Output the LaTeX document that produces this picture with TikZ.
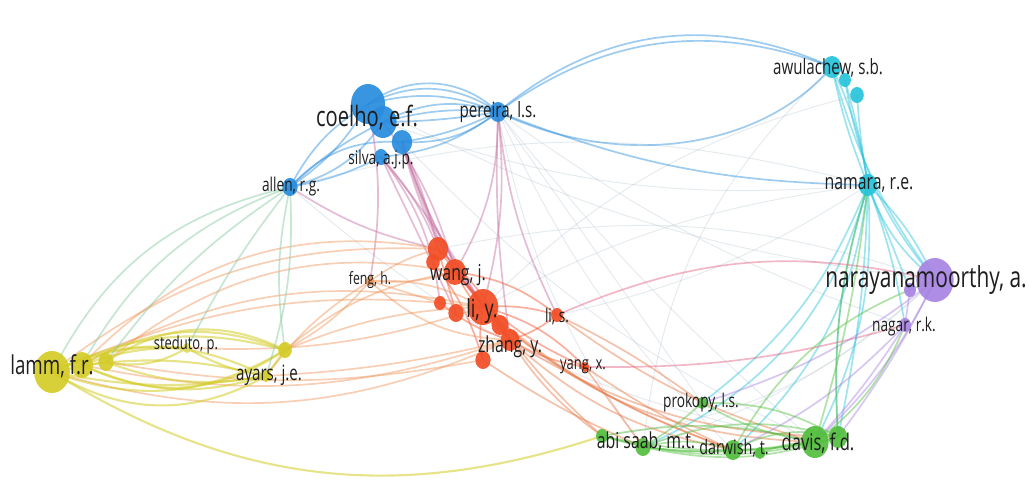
\documentclass[tikz,border=0pt]{standalone}
\usepackage{graphicx}
\usepackage{fontspec}
\setmainfont{Open Sans}
\usetikzlibrary{shapes.geometric,backgrounds}

\definecolor{cBlue}{RGB}{40,140,222}
\definecolor{cCyan}{RGB}{40,196,220}
\definecolor{cPurp}{RGB}{168,132,226}
\definecolor{cRed}{RGB}{242,78,38}
\definecolor{cOrng}{RGB}{240,150,90}
\definecolor{cRedG}{RGB}{232,120,70}
\definecolor{cYel}{RGB}{212,204,40}
\definecolor{cGrn}{RGB}{82,190,62}
\definecolor{cTeal}{RGB}{130,200,160}
\definecolor{cMix}{RGB}{196,110,160}
\definecolor{cPink}{RGB}{228,96,130}
\definecolor{cGray}{RGB}{165,185,200}
\definecolor{labgray}{RGB}{30,30,30}

% bubble: name, x, y, radius, colour
\newcommand\bub[5]{\node[bub, fill=#5, minimum width={1.7*#4pt}, minimum height={2*#4pt}] (#1) at (#2,#3) {};}
% label: name, x, y, size, text
\newcommand\lbl[5]{\node[lab] (#1) at (#2,#3) {\fontsize{#4}{#4}\selectfont\scalebox{0.72}[1]{#5}};}

\begin{document}
\begin{tikzpicture}[x=1pt,y=-1pt,
  bub/.style={ellipse, inner sep=0pt, draw=none, fill opacity=.92},
  lab/.style={text=labgray, inner sep=0pt},
  ed/.style={line width=1.7pt, draw opacity=.45},
  edy/.style={line width=2.1pt, draw opacity=.55},
  edf/.style={line width=1pt, draw opacity=.28}]
\useasboundingbox (0,0) rectangle (1029,481);

% ---- bubbles ----
% blue cluster
\bub{c1}{368}{104}{20}{cBlue}
\bub{c2}{383}{122}{16}{cBlue}
\bub{c3}{402}{142}{12}{cBlue}
\bub{c4}{381}{157}{8}{cBlue}
\bub{per}{498}{112}{10}{cBlue}
\bub{alln}{290}{187}{9}{cBlue}
% cyan cluster
\bub{aw1}{832}{67}{11}{cCyan}
\bub{aw2}{845}{80}{7}{cCyan}
\bub{aw3}{857}{95}{8}{cCyan}
\bub{nam}{868}{185}{11}{cCyan}
% purple cluster
\bub{nar}{935}{280}{22}{cPurp}
\bub{nar2}{910}{290}{7}{cPurp}
\bub{nag}{905}{325}{7}{cPurp}
% red cluster
\bub{r1}{438}{249}{12}{cRed}
\bub{r2}{433}{262}{8}{cRed}
\bub{r3}{455}{272}{13}{cRed}
\bub{r4}{440}{303}{7}{cRed}
\bub{r5}{456}{313}{9}{cRed}
\bub{ly}{483}{307}{18}{cRed}
\bub{r6}{500}{325}{10}{cRed}
\bub{zh}{510}{340}{11}{cRed}
\bub{r7}{483}{360}{9}{cRed}
\bub{ls}{557}{315}{7}{cRed}
\bub{yx}{585}{367}{5}{cRed}
\bub{feng}{370}{281}{5}{cOrng}
% yellow cluster
\bub{l1}{52}{372}{21}{cYel}
\bub{l2}{82}{365}{13}{cYel}
\bub{l3}{106}{362}{9}{cYel}
\bub{sted}{187}{348}{5}{cYel!70}
\bub{ya}{285}{350}{8}{cYel}
\bub{ay}{266}{376}{6}{cYel}
% green cluster
\bub{pro}{702}{403}{6}{cGrn}
\bub{ab1}{602}{436}{7}{cGrn}
\bub{ab2}{643}{447}{9}{cGrn}
\bub{dw1}{733}{450}{10}{cGrn}
\bub{dw2}{760}{453}{6}{cGrn}
\bub{dv1}{815}{442}{16}{cGrn}
\bub{dv2}{838}{437}{11}{cGrn}

% ---- links ----
\begin{scope}[on background layer]
\fill[white] (0,0) rectangle (1029,481);
% faint long-range links
\foreach \a/\b/\k in {per/dv1/-5, c1/nar/-10, alln/nam/15, per/pro/0, ly/nam/10,
  r1/nar/15, c3/dv1/-10, aw1/ab2/-20, nam/ls/10, per/dw1/-10, alln/dv1/-15, per/nag/-8,
  c2/nam/-12, per/ab2/-12, ly/aw3/15, nar/ab2/12, nar/ab1/18}
  \draw[edf,cGray] (\a.center) to[bend left=\k] (\b.center);
% blue
\foreach \a/\b/\k in {c1/per/30, c1/per/18, c2/per/10, c3/per/-8, c4/per/-15, c3/per/-20,
  c2/per/22, c1/per/40, c2/per/-4, c1/alln/-15, c2/alln/-8, c4/alln/8, c3/alln/-25,
  c1/alln/12, c2/alln/20, per/aw1/32, per/aw1/28, per/nam/-10}
  \draw[ed,cBlue] (\a.center) to[bend left=\k] (\b.center);
\draw[ed,cBlue] (per.center) .. controls (620,170) and (760,150) .. (aw1.center);
% cyan
\foreach \a/\b/\k in {aw1/nam/-5, aw1/nam/8, aw2/nam/3, aw3/nam/-3, aw1/nar/-10, aw2/nar/-15,
  nam/nar/-15, nam/nar/10, nam/nag/5, nam/dv1/15, nam/dv2/5, nam/dv2/-10, nam/dw1/20,
  nam/ab2/25, nam/pro/15, nam/nar2/0}
  \draw[ed,cCyan] (\a.center) to[bend left=\k] (\b.center);
% blue to red
\foreach \a/\b/\k in {c3/r1/5, c3/r3/-5, c4/r1/10, c3/ly/-8, c4/ly/5, c3/zh/-10, c2/r3/10,
  c4/r4/15, per/ly/10, per/zh/-5, per/ls/-10, per/r3/15, alln/r1/-10, c1/feng/10,
  c3/r6/-14, c4/r5/0}
  \draw[ed,cMix] (\a.center) to[bend left=\k] (\b.center);
% red
\foreach \a/\b/\k in {r1/ly/0, r3/ly/5, r3/zh/-10, r1/zh/10, ly/zh/0, r4/zh/-10, ly/ls/10,
  zh/ls/-10, r3/ls/15, r7/ly/10, zh/yx/-10, ly/yx/15, r1/r5/0, r2/r7/10, r3/yx/-12}
  \draw[ed,cRed] (\a.center) to[bend left=\k] (\b.center);
% red to yellow
\foreach \a/\b/\k in {r1/feng/-10, r3/feng/10, ly/feng/-15, zh/feng/20, r4/feng/0,
  l1/r1/20, l2/ly/20, l3/r3/25, l1/zh/-20, l2/zh/-15, l3/r7/-10, ya/ly/10, ay/zh/-5,
  ya/r3/15, sted/ly/-10, feng/ya/10, feng/ay/-10, l1/ly/15, l2/r1/28}
  \draw[ed,cOrng] (\a.center) to[bend left=\k] (\b.center);
% red to green
\foreach \a/\b/\k in {zh/ab1/-10, zh/dw1/-15, ly/dv1/-20, r7/ab2/-5, yx/dw1/-5, ls/dv1/-10,
  zh/dv2/-15, ls/pro/5, r6/ab1/-5, yx/ab2/0, ly/dw1/-10, r6/dw1/-8}
  \draw[ed,cRedG] (\a.center) to[bend left=\k] (\b.center);
% purple
\draw[ed,cPink] (nar.center) to[bend left=-18] (ls.center);
\draw[ed,cPink] (nag.center) to[bend left=8] (yx.center);
\foreach \a/\b/\k in {nar/dv1/10, nar/dv2/5, nag/dv1/5, nag/dw1/10, nar2/nag/0, nar/pro/10}
  \draw[ed,cPurp] (\a.center) to[bend left=\k] (\b.center);
% yellow
\foreach \a/\b/\k in {l1/ya/20, l2/ya/25, l1/ay/-10, l2/ay/-20, l3/ay/-15, l1/sted/15,
  l2/sted/10, l3/ya/30, l1/l3/0, l1/ay/25, l2/ay/10, l3/sted/-20, l1/ya/-25, ya/ay/0,
  l1/ab1/-25, sted/ay/-10, l2/ya/-30, l1/ay/-30}
  \draw[edy,cYel] (\a.center) to[bend left=\k] (\b.center);
% allen to yellow
\foreach \a/\b/\k in {alln/l1/-25, alln/l2/-20, alln/l3/-10, alln/sted/-5, alln/ya/-10, alln/ay/10}
  \draw[ed,cTeal] (\a.center) to[bend left=\k] (\b.center);
% green
\foreach \a/\b/\k in {ab1/dv1/-10, ab2/dv1/-8, dw1/dv1/-5, dw1/dv2/20, pro/dv1/-10, pro/dv2/15,
  ab1/dw1/-10, ab2/dv2/-15, pro/ab2/5, dw2/dv1/10, ab1/dv2/-15, ab2/dw1/15, dv2/nam/10,
  dv1/nam/-5, dv1/nag/-15, dw1/nar/20, ab1/dv1/12, ab2/dv2/18}
  \draw[ed,cGrn] (\a.center) to[bend left=\k] (\b.center);
\end{scope}

% ---- labels ----
\lbl{tCoelho}{367}{118}{28}{coelho, e.f.}
\lbl{tSilva}{381}{160}{19}{silva, a.j.p.}
\lbl{tPereira}{498}{112}{21}{pereira, l.s.}
\lbl{tAllen}{291}{187}{19}{allen, r.g.}
\lbl{tAwul}{828}{68}{21}{awulachew, s.b.}
\lbl{tNamara}{869}{185}{22}{namara, r.e.}
\lbl{tNaray}{926}{280}{29}{narayanamoorthy, a.}
\lbl{tNagar}{904}{327}{19}{nagar, r.k.}
\lbl{tWang}{458}{275}{22}{wang, j.}
\lbl{tLiy}{482}{311}{25}{li, y.}
\lbl{tZhang}{510}{347}{22}{zhang, y.}
\lbl{tLis}{557}{317}{19}{li, s.}
\lbl{tYang}{583}{367}{18}{yang, x.}
\lbl{tFeng}{370}{280}{17}{feng, h.}
\lbl{tLamm}{52}{366}{26}{lamm, f.r.}
\lbl{tSted}{186}{345}{18}{steduto, p.}
\lbl{tAyars}{269}{375}{21}{ayars, j.e.}
\lbl{tProk}{701}{403}{19}{prokopy, l.s.}
\lbl{tAbi}{646}{442}{22}{abi saab, m.t.}
\lbl{tDarw}{734}{448}{20}{darwish, t.}
\lbl{tDavis}{818}{443}{23}{davis, f.d.}
\end{tikzpicture}
\end{document}
